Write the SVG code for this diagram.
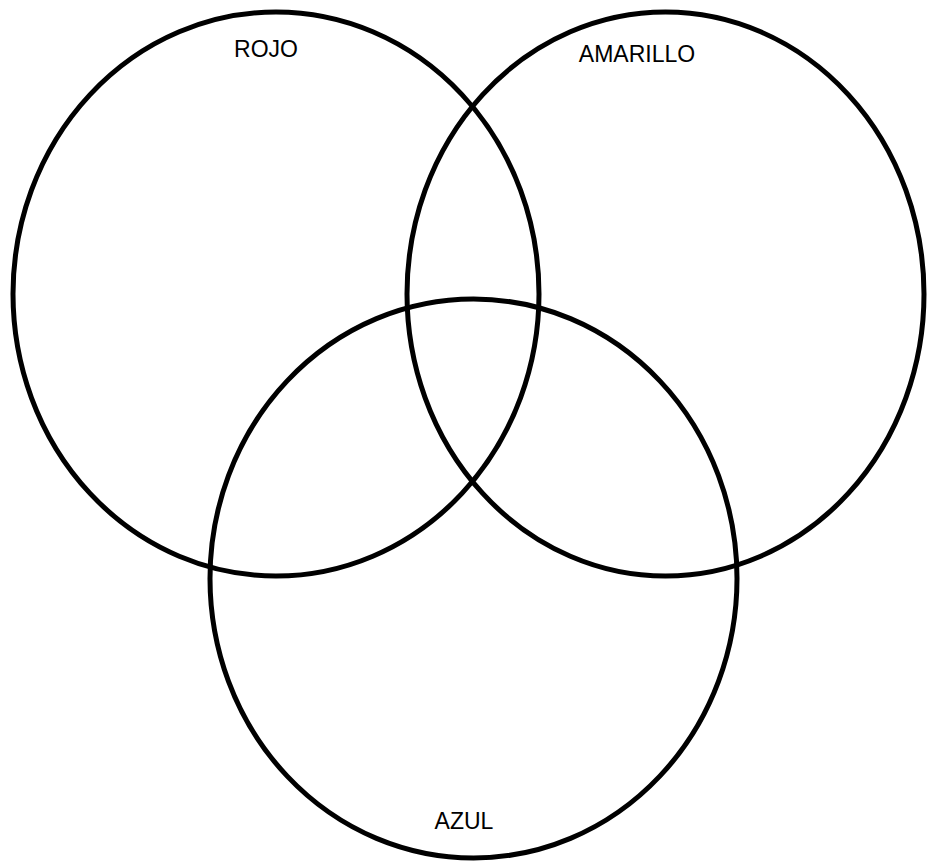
<svg xmlns="http://www.w3.org/2000/svg" width="928" height="865" viewBox="0 0 928 865">
<style>
.c{fill:none;stroke:#000;stroke-width:5}
.t{font-family:"Liberation Sans",Arial,sans-serif;font-size:23px;fill:#000;text-anchor:middle}
</style>
<rect width="928" height="865" fill="#fff"/>
<g id="rojo">
<ellipse class="c" cx="276" cy="294" rx="263" ry="282"/>
<text class="t" x="266" y="57">ROJO</text>
</g>
<g id="amarillo">
<ellipse class="c" cx="665.5" cy="294" rx="258.5" ry="282"/>
<text class="t" x="637" y="62">AMARILLO</text>
</g>
<g id="azul">
<ellipse class="c" cx="473.5" cy="578.5" rx="263.5" ry="279.5"/>
<text class="t" x="464" y="829">AZUL</text>
</g>
<g id="connectors"></g>
</svg>
